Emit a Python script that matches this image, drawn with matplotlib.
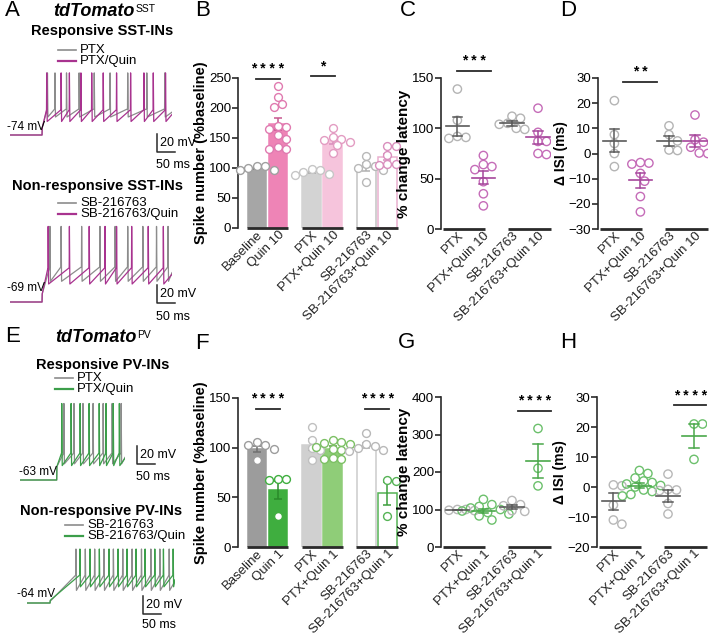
import numpy as np
import matplotlib.pyplot as plt
from matplotlib.lines import Line2D

plt.rcParams['font.family'] = ['Liberation Sans', 'DejaVu Sans']
plt.rcParams['axes.linewidth'] = 1.2

# ---------------- data ----------------
bar_groups_sst = ['Baseline', 'Quin 10', 'PTX', 'PTX+Quin 10', 'SB-216763', 'SB-216763+Quin 10']
bar_groups_pv = ['Baseline', 'Quin 1', 'PTX', 'PTX+Quin 1', 'SB-216763', 'SB-216763+Quin 1']
dot_groups_sst = ['PTX', 'PTX+Quin 10', 'SB-216763', 'SB-216763+Quin 10']
dot_groups_pv = ['PTX', 'PTX+Quin 1', 'SB-216763', 'SB-216763+Quin 1']

# B: spike number, SST
sst_spk = [[104, 104, 100, 97, 96],
           [237, 219, 207, 201, 170, 168, 165, 155, 148, 135, 132, 132],
           [99, 97, 93, 90, 89],
           [167, 151, 149, 146, 144, 138, 125],
           [120, 106, 104, 100, 97, 77],
           [136, 136, 122, 106, 106, 105]]
sst_spk_mean = [100, 174, 93, 146, 101, 118]
sst_spk_sem = [1.5, 10, 2, 5.5, 6.5, 5]

# C: latency, SST
sst_lat = [[139, 108, 92, 91, 90],
           [73, 64, 62, 59, 47, 35, 23],
           [112, 110, 105, 104, 100, 99],
           [120, 96, 87, 87, 75, 74]]
sst_lat_mean = [102, 51, 105, 91]
sst_lat_sem = [9.5, 6.5, 2.2, 6.5]

# D: ISI, SST
sst_isi = [[21, 7.5, 4, 0, -5.2],
           [-3.6, -3.8, -4.2, -7.9, -11, -17.1, -23.2],
           [11, 7.5, 5, 1.4, 1.2],
           [15.3, 5.5, 4.5, 2.5, 0.2, 0]]
sst_isi_mean = [5.1, -10.7, 5, 4.9]
sst_isi_sem = [4.5, 2.9, 2, 2.3]

# F: spike number, PV
pv_spk = [[106, 103, 103, 99, 88],
          [68, 68, 67, 31],
          [121, 108, 100, 98, 88],
          [108, 106, 105, 104, 101, 99, 98, 90, 89, 89],
          [115, 104, 102, 100, 98, 97],
          [67, 66, 31]]
pv_spk_mean = [99, 57, 103, 99, 102, 54]
pv_spk_sem = [3, 9, 5.5, 2.2, 2.8, 11.5]

# G: latency, PV
pv_lat = [[100, 100, 98, 97],
          [127, 113, 108, 104, 100, 96, 92, 88, 83, 72],
          [124, 113, 110, 97, 95],
          [316, 210, 163]]
pv_lat_mean = [98.5, 97, 107, 229]
pv_lat_sem = [1, 5, 5.5, 45]

# H: ISI, PV
pv_isi = [[0.7, 0.4, -6, -11, -12.4],
          [5.5, 4.5, 3, 2, 1.5, 1, 0.5, 0, -1, -1.5, -2.5, -3],
          [4.3, -0.8, -1, -1.2, -5.5, -9],
          [21, 21, 9.2]]
pv_isi_mean = [-4.8, 0.4, -3, 17]
pv_isi_sem = [2.7, 0.8, 2, 4]

# spike times (ms) in the example traces
a1_ptx = [104, 125, 157, 192, 234, 278, 327, 380, 430]
a1_quin = [102, 142, 165, 197, 227, 259, 296, 335, 372, 398, 432]
a2_sb = [111, 142, 199, 250, 292, 327, 369, 407, 439]
a2_quin = [106, 165, 220, 264, 296, 338, 384, 426]
e1_ptx = [122, 150, 175, 203, 231, 256, 281]
e1_quin = [116, 142, 167, 192, 220, 239, 259, 276]
e2_sb = [136, 162, 188, 214, 240, 266, 292, 318, 344, 369, 395]
e2_quin = [147, 175, 201, 228, 253, 278, 303, 328, 355, 379, 406]

# ---------------- figure helpers ----------------
W, H = 709, 636
fig = plt.figure(figsize=(W / 100, H / 100), dpi=100)
INK = '#2a2a2a'
GRAY_TR = '#8c8c8c'
MAG = '#a8338f'
GRN = '#3c9e4a'


def rect(x0, y0, x1, y1):
    return [x0 / W, 1 - y1 / H, (x1 - x0) / W, (y1 - y0) / H]


def ftext(x, y, s, **kw):
    return fig.text(x / W, 1 - y / H, s, **kw)


def fline(xs, ys, color=INK, lw=1.1):
    fig.add_artist(Line2D([x / W for x in xs], [1 - y / H for y in ys],
                          color=color, lw=lw))


def swarm(vals, ppu_x, ppu_y, diam=8.5):
    vals = np.asarray(vals, float)
    offs = np.zeros(len(vals))
    placed = []
    cands = [0.0]
    for k in range(1, 12):
        cands += [k * diam * 0.5, -k * diam * 0.5]
    for i in np.argsort(-vals):
        y = vals[i] * ppu_y
        for c in cands:
            if all((c - px) ** 2 + (y - py) ** 2 >= (diam * 0.92) ** 2 for px, py in placed):
                break
        placed.append((c, y))
        offs[i] = c / ppu_x
    return offs


def style_axes(ax, ylim, yticks, ylabel, labsize):
    for s in ['top', 'right', 'bottom']:
        ax.spines[s].set_visible(False)
    ax.spines['left'].set_color(INK)
    ax.set_ylim(*ylim)
    ax.set_yticks(yticks)
    ax.tick_params(axis='y', length=4, width=1.2, labelsize=9.5, pad=1, color=INK)
    ax.tick_params(axis='x', length=0, labelsize=9.5, pad=0.5, labelcolor='#222222')
    ax.set_ylabel(ylabel, fontsize=labsize, fontweight='bold', labelpad=0.5)


def sig(ax, x0, x1, y, s):
    ax.plot([x0, x1], [y, y], color=INK, lw=1.3, clip_on=False)
    ax.annotate(s, ((x0 + x1) / 2, y), xytext=(0, 7), textcoords='offset points',
                ha='center', va='center', fontsize=10, fontweight='bold',
                annotation_clip=False)


def bar_panel(box, labels, vals, means, sems, fills, edges, dotc, errc,
              ymax, ystep, sigs):
    ax = fig.add_axes(rect(*box))
    x = np.array([0, 1, 2.6, 3.6, 5.2, 6.2])
    ppu_y = (box[3] - box[1]) / ymax
    ax.bar(x, means, width=0.88, color=fills, edgecolor=edges, linewidth=1.1, zorder=1)
    for xi, m, e, c in zip(x, means, sems, errc):
        ax.errorbar(xi, m, yerr=e, fmt='none', ecolor=c, elinewidth=1.1, capsize=3,
                    capthick=1.1, zorder=2)
    for xi, v, fc in zip(x, vals, dotc):
        ax.scatter(xi + swarm(v, 21, ppu_y), v, s=32, facecolor=fc[0], edgecolor=fc[1],
                   linewidth=1.0, zorder=3, clip_on=False)
    ax.set_xlim(-0.9, 6.8)
    style_axes(ax, (0, ymax), np.arange(0, ymax + 1, ystep),
               'Spike number (%baseline)', 10.5)
    ax.set_xticks(x)
    ax.set_xticklabels(labels, rotation=45, ha='right', rotation_mode='anchor')
    for a, b in [(0, 1), (2, 3), (4, 5)]:
        ax.plot([x[a] - 0.48, x[b] + 0.5], [0, 0], color=INK, lw=2, clip_on=False,
                solid_capstyle='butt')
    for a, b, y, s in sigs:
        sig(ax, x[a] - 0.05, x[b] + 0.1, y, s)
    return ax


def dot_panel(box, labels, vals, means, sems, dcols, mcols, ylim, ystep, ylabel,
              labsize, sigs):
    ax = fig.add_axes(rect(*box))
    x = np.array([0, 1, 2.1, 3.1])
    ppu_y = (box[3] - box[1]) / (ylim[1] - ylim[0])
    for xi, v, m, e, dc, mc in zip(x, vals, means, sems, dcols, mcols):
        ax.scatter(xi + swarm(v, 26, ppu_y), v, s=36, facecolor='none', edgecolor=dc,
                   linewidth=1.0, zorder=2)
        ax.plot([xi - 0.45, xi + 0.45], [m, m], color=mc, lw=1.2, zorder=3)
        ax.plot([xi, xi], [m - e, m + e], color=mc, lw=1.1, zorder=3)
        for yy in (m - e, m + e):
            ax.plot([xi - 0.18, xi + 0.18], [yy, yy], color=mc, lw=1.1, zorder=3)
    ax.set_xlim(-0.63, 3.6)
    style_axes(ax, ylim, np.arange(ylim[0], ylim[1] + 1, ystep), ylabel, labsize)
    ax.set_xticks(x)
    ax.set_xticklabels(labels, rotation=45, ha='right', rotation_mode='anchor')
    for a, b in [(-0.55, 1.05), (1.95, 3.6)]:
        ax.plot([a, b], [ylim[0]] * 2, color=INK, lw=2, clip_on=False,
                solid_capstyle='butt')
    for x0, x1, y, s in sigs:
        sig(ax, x0, x1, y, s)
    return ax


def spike_trace(times, rest, onset, t_end, v_step, thr, peak, ahp):
    t = [0, onset, onset + 0.5]
    v = [rest, rest, v_step]
    for s in times:
        t += [s - 0.6, s, s + 1.3]
        v += [thr, peak, ahp]
    t.append(t_end)
    v.append(ahp + 0.6 * (thr - ahp))
    return t, v


def trace_panel(x_px, y_base, t_max, rest, vlo, vhi, traces):
    top = y_base - (vhi - rest) * 0.9
    bot = y_base + (rest - vlo) * 0.9
    ax = fig.add_axes(rect(x_px, top, x_px + t_max * 0.36, bot))
    ax.set_xlim(0, t_max)
    ax.set_ylim(vlo, vhi)
    ax.axis('off')
    for (t, v), c in traces:
        ax.plot(t, v, color=c, lw=0.9)
    return ax


def scalebar(x, y_top, ty_ms):
    fline([x, x, x + 18], [y_top, y_top + 18, y_top + 18])
    ftext(x + 2.5, y_top + 9, '20 mV', fontsize=9, va='center', ha='left')
    ftext(x + 16, ty_ms, '50 ms', fontsize=9, va='center', ha='center')


def legend_pair(x, y1, y2, lab1, lab2, c2):
    fline([x, x + 18], [y1, y1], color=GRAY_TR, lw=1.2)
    fline([x, x + 18], [y2, y2], color=c2, lw=1.6)
    ftext(x + 22, y1, lab1, fontsize=9.5, va='center')
    ftext(x + 22, y2, lab2, fontsize=9.5, va='center')


def title_tdt(x, y, sup):
    t = ftext(x, y, 'tdTomato', fontsize=13, fontweight='bold', fontstyle='italic',
              va='center')
    bb = t.get_window_extent(fig.canvas.get_renderer())
    fig.text((bb.x1 + 1) / W, 1 - (y - 3) / H, sup, fontsize=7.5, va='center')


# ---------------- A: SST traces ----------------
ftext(5, 11, 'A', fontsize=16, va='center')
title_tdt(53, 12, 'SST')
ftext(102, 31, 'Responsive SST-INs', fontsize=10.5, fontweight='bold', ha='center', va='center')
legend_pair(58, 50, 61, 'PTX', 'PTX/Quin', MAG)
trace_panel(10, 135, 450, -74, -80, -2, [
    (spike_trace(a1_ptx, -74, 89, 450, -66, -45, -5, -54), GRAY_TR),
    (spike_trace(a1_quin, -74, 89, 450, -66, -46, -5, -59), MAG)])
ftext(7, 127, '-74 mV', fontsize=8.5, va='center')
scalebar(157, 134, 165)

ftext(98, 186, 'Non-responsive SST-INs', fontsize=10.5, fontweight='bold', ha='center', va='center')
legend_pair(58, 203, 214, 'SB-216763', 'SB-216763/Quin', MAG)
trace_panel(10, 302, 450, -69, -75, 18, [
    (spike_trace(a2_sb, -69, 89, 450, -60, -30, 15, -46), GRAY_TR),
    (spike_trace(a2_quin, -69, 89, 450, -60, -31, 15, -49), MAG)])
ftext(7, 288, '-69 mV', fontsize=8.5, va='center')
scalebar(157, 285, 317)

# ---------------- E: PV traces ----------------
ftext(5, 336, 'E', fontsize=16, va='center')
title_tdt(55, 338, 'PV')
ftext(103, 365, 'Responsive PV-INs', fontsize=10.5, fontweight='bold', ha='center', va='center')
legend_pair(55, 378, 389, 'PTX', 'PTX/Quin', GRN)
trace_panel(20, 480, 292, -63, -69, 25, [
    (spike_trace(e1_ptx, -63, 102, 292, -48, -33, 22, -45), GRAY_TR),
    (spike_trace(e1_quin, -63, 102, 292, -48, -33, 22, -47), GRN)])
ftext(19, 472, '-63 mV', fontsize=8.5, va='center')
scalebar(137, 446, 477)

ftext(101, 511, 'Non-responsive PV-INs', fontsize=10.5, fontweight='bold', ha='center', va='center')
legend_pair(65, 525, 536, 'SB-216763', 'SB-216763/Quin', GRN)
trace_panel(27, 603, 411, -64, -70, -2, [
    (spike_trace(e2_sb, -64, 64, 411, -62, -33, -4, -50), GRAY_TR),
    (spike_trace(e2_quin, -64, 64, 411, -61, -33, -4, -46), GRN)])
ftext(17, 594, '-64 mV', fontsize=8.5, va='center')
scalebar(143, 596, 625)

# ---------------- B ----------------
ftext(195, 11, 'B', fontsize=16, va='center')
bar_panel((238, 78, 400, 228), bar_groups_sst, sst_spk, sst_spk_mean, sst_spk_sem,
          ['#a6a6a6', '#ee84b6', '#d3d3d3', '#f6c4dc', 'white', 'white'],
          ['#a6a6a6', '#ee84b6', '#d3d3d3', '#f6c4dc', '#c4c4c4', '#eab0cf'],
          [('white', '#a0a0a0'), ('white', '#e07ab0'), ('white', '#c6c6c6'),
           ('white', '#e39cc2'), ('white', '#b8b8b8'), ('white', '#d98ebd')],
          ['#808080', '#c8578f', '#a8a8a8', '#d98ebd', '#b0b0b0', '#d98ebd'],
          250, 50, [(0, 1, 248, '* * * *'), (2, 3, 253, '*')])

# ---------------- C ----------------
SST_G, SST_P = '#b4b4b4', '#c56cb8'
ftext(400, 11, 'C', fontsize=16, va='center')
dot_panel((441, 78, 551, 229), dot_groups_sst, sst_lat, sst_lat_mean, sst_lat_sem,
          [SST_G, SST_P, SST_G, SST_P], ['#5a5a5a', '#a5479b', '#5a5a5a', '#a5479b'],
          (0, 150), 50, '% change latency', 11, [(0.0, 1.3, 157, '* * *')])

# ---------------- D ----------------
ftext(560, 11, 'D', fontsize=16, va='center')
dot_panel((598, 78, 708, 229), dot_groups_sst, sst_isi, sst_isi_mean, sst_isi_sem,
          [SST_G, SST_P, SST_G, SST_P], ['#5a5a5a', '#a5479b', '#5a5a5a', '#a5479b'],
          (-30, 30), 10, '\u0394 ISI (ms)', 10, [(0.35, 1.65, 28.4, '* *')])

# ---------------- F ----------------
ftext(195, 343, 'F', fontsize=16, va='center')
bar_panel((238, 398, 400, 547), bar_groups_pv, pv_spk, pv_spk_mean, pv_spk_sem,
          ['#9c9c9c', '#3fae3f', '#d0d0d0', '#8fcd78', 'white', 'white'],
          ['#9c9c9c', '#3fae3f', '#d0d0d0', '#8fcd78', '#cccccc', '#55b355'],
          [('white', '#9c9c9c'), ('white', '#3fae3f'), ('white', '#c0c0c0'),
           ('white', '#7cc064'), ('white', '#b8b8b8'), ('white', '#55b355')],
          ['#707070', '#2a8a2a', '#a0a0a0', '#5a9a48', '#b0b0b0', '#3c9e3c'],
          150, 50, [(0, 1, 139, '* * * *'), (4, 5, 139, '* * * *')])

# ---------------- G ----------------
PV_G, PV_GR = '#b8b8b8', '#6cc06c'
ftext(398, 342, 'G', fontsize=16, va='center')
dot_panel((441, 397, 551, 547), dot_groups_pv, pv_lat, pv_lat_mean, pv_lat_sem,
          [PV_G, PV_GR, PV_G, PV_GR], ['#5a5a5a', '#4aa84a', '#5a5a5a', '#4aa84a'],
          (0, 400), 100, '% change latency', 11, [(2.35, 3.6, 363, '* * * *')])

# ---------------- H ----------------
ftext(560, 342, 'H', fontsize=16, va='center')
dot_panel((597, 397, 707, 547), dot_groups_pv, pv_isi, pv_isi_mean, pv_isi_sem,
          [PV_G, PV_GR, PV_G, PV_GR], ['#5a5a5a', '#4aa84a', '#5a5a5a', '#4aa84a'],
          (-20, 30), 10, '\u0394 ISI (ms)', 10, [(2.35, 3.55, 27.2, '* * * *')])

fig.savefig('out.png', dpi=100)
